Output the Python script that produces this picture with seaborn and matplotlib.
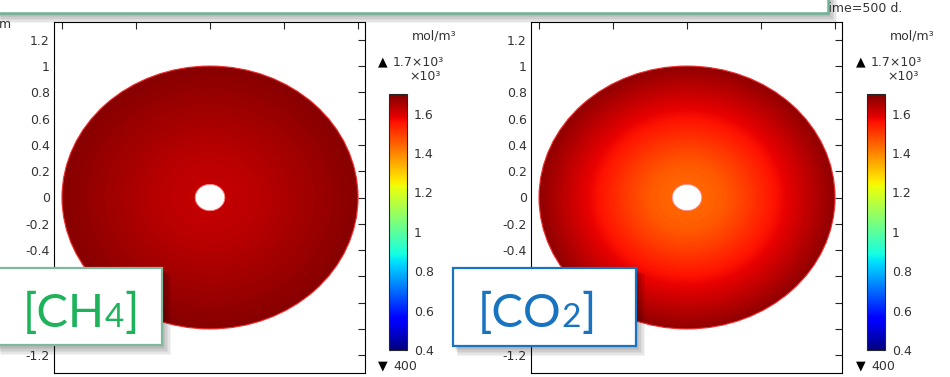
import matplotlib

matplotlib.use("Agg")

import matplotlib.pyplot as plt
import numpy as np
import seaborn as sns
from matplotlib.patches import Circle, Rectangle
from matplotlib.ticker import FuncFormatter

# radial concentration profiles (mol/m3)
RADIUS_NODES = [0.1, 0.25, 0.4, 0.6, 0.8, 1.0]
CH4_PROFILE = [1622, 1628, 1638, 1655, 1672, 1690]
CO2_PROFILE = [1440, 1458, 1498, 1558, 1620, 1680]

DISK_RADIUS = 1.0
HOLE_RADIUS = 0.1
COLOR_MIN = 400
COLOR_MAX = 1700
COLORBAR_TICKS = [400, 600, 800, 1000, 1200, 1400, 1600]
X_TICKS = [-1, -0.5, 0, 0.5, 1]
Y_TICKS = [-1.2, -1, -0.8, -0.6, -0.4, -0.2, 0, 0.2, 0.4, 0.6, 0.8, 1, 1.2]
# tick labels that sit underneath the species boxes
HIDDEN_Y_LABELS = [-1, -0.8, -0.6]

SPECIES = [("CH", "4", "#1db35a", "#7fb99c"), ("CO", "2", "#1874c1", "#1874c1")]
UNIT_LABEL = "mol/m³"
MAX_LABEL = "1.7×10³"
SCALE_LABEL = "×10³"
MIN_LABEL = "400"
TIME_LABEL = "Time=500 d."

W, H = 950, 377
TEXT_COLOR = "#333333"
FS = 9


def px_rect(x0, y0, x1, y1):
    return [x0 / W, 1 - y1 / H, (x1 - x0) / W, (y1 - y0) / H]


def shadow_box(ax, x0, y0, x1, y1, edgecolor, lw=1.6):
    for i in range(6):
        ax.add_patch(
            Rectangle(
                (x0 + 2 + i * 0.6, y0 + 3 + i * 0.6),
                x1 - x0 + i * 0.8,
                y1 - y0 + i * 0.8,
                facecolor="#000000",
                alpha=0.05,
                edgecolor="none",
            )
        )
    ax.add_patch(
        Rectangle((x0, y0), x1 - x0, y1 - y0, facecolor="white", edgecolor=edgecolor, lw=lw)
    )


def y_label(v, _):
    if any(abs(v - h) < 1e-9 for h in HIDDEN_Y_LABELS):
        return ""
    return f"{v:g}"


def draw_field(ax, profile):
    grid = np.linspace(-1.02, 1.02, 700)
    gx, gy = np.meshgrid(grid, grid)
    field = np.interp(np.hypot(gx, gy), RADIUS_NODES, profile)
    im = ax.imshow(
        field,
        extent=(grid[0], grid[-1], grid[0], grid[-1]),
        origin="lower",
        cmap="jet",
        vmin=COLOR_MIN,
        vmax=COLOR_MAX,
        aspect="auto",
        interpolation="bilinear",
    )
    disk = Circle((0, 0), DISK_RADIUS, facecolor="none", edgecolor="#f03030", lw=0.8, zorder=3)
    ax.add_patch(disk)
    im.set_clip_path(disk)
    ax.add_patch(Circle((0, 0), HOLE_RADIUS, facecolor="white", edgecolor="#ff8080", lw=0.6, zorder=3))

    ax.set_xlim(-1.054, 1.047)
    ax.set_ylim(-1.335, 1.335)
    ax.set_xticks(X_TICKS)
    ax.set_yticks(Y_TICKS)
    ax.yaxis.set_major_formatter(FuncFormatter(y_label))
    ax.tick_params(
        direction="in",
        length=5,
        width=0.8,
        top=True,
        right=True,
        labelbottom=False,
        labelsize=FS,
        labelcolor=TEXT_COLOR,
        pad=3,
    )
    for spine in ax.spines.values():
        spine.set_visible(True)
        spine.set_color("black")
        spine.set_linewidth(0.8)
    return im


def draw_colorbar(fig, im, x0):
    cax = fig.add_axes(px_rect(x0, 94, x0 + 18, 350))
    cb = fig.colorbar(im, cax=cax, ticks=COLORBAR_TICKS)
    cb.ax.yaxis.set_major_formatter(FuncFormatter(lambda v, _: f"{v / 1000:g}"))
    cb.ax.tick_params(
        direction="in", length=2.5, width=0.8, left=True, right=True,
        labelsize=FS, labelcolor=TEXT_COLOR, pad=5,
    )
    cb.outline.set_linewidth(0.8)


def main():
    sns.set_theme(style="white")
    plt.rcParams["font.family"] = ["DejaVu Sans"]

    fig = plt.figure(figsize=(W / 100, H / 100), dpi=100)
    fig.patch.set_facecolor("white")

    panel_left = [54, 531]
    bar_left = [389, 867]
    profiles = [CH4_PROFILE, CO2_PROFILE]

    for left, cbar_x, profile in zip(panel_left, bar_left, profiles):
        ax = fig.add_axes(px_rect(left, 22, left + 311, 373))
        im = draw_field(ax, profile)
        draw_colorbar(fig, im, cbar_x)

    overlay = fig.add_axes([0, 0, 1, 1], zorder=10)
    overlay.set_xlim(0, W)
    overlay.set_ylim(H, 0)
    overlay.axis("off")

    # colour legend annotations
    for cbar_x in bar_left:
        overlay.text(cbar_x + 45, 36, UNIT_LABEL, ha="center", va="center", fontsize=FS, color=TEXT_COLOR)
        overlay.text(cbar_x - 6, 62, "▲", ha="center", va="center", fontsize=FS, color="black")
        overlay.text(cbar_x + 4, 62, MAX_LABEL, ha="left", va="center", fontsize=FS, color=TEXT_COLOR)
        overlay.text(cbar_x + 36, 76, SCALE_LABEL, ha="center", va="center", fontsize=FS, color=TEXT_COLOR)
        overlay.text(cbar_x - 6, 366, "▼", ha="center", va="center", fontsize=FS, color="black")
        overlay.text(cbar_x + 4, 366, MIN_LABEL, ha="left", va="center", fontsize=FS, color=TEXT_COLOR)

    overlay.text(-1, 24, "m", ha="left", va="center", fontsize=FS, color=TEXT_COLOR)
    # the "T" sits behind the title box, as in the screenshot
    overlay.text(821, 8, TIME_LABEL, ha="left", va="center", fontsize=FS, color=TEXT_COLOR, zorder=0.5)

    # slide title box (its text is cut off above the frame)
    shadow_box(overlay, -4, -20, 828, 13, "#6fb295", lw=1.8)

    # species label boxes
    boxes = [(-4, 268, 162, 345, 23), (453, 268, 636, 346, 478)]
    for (x0, y0, x1, y1, tx), (base, sub, color, edge) in zip(boxes, SPECIES):
        shadow_box(overlay, x0, y0, x1, y1, edge, lw=1.6)
        t1 = overlay.text(tx, 327, "[" + base, ha="left", va="baseline",
                          fontsize=34, color=color, family=["Lato", "DejaVu Sans"])
        t2 = overlay.annotate(sub, xy=(1, 327), xycoords=(t1, "data"), ha="left", va="baseline",
                              fontsize=24, color=color, family=["Lato", "DejaVu Sans"])
        overlay.annotate("]", xy=(1, 327), xycoords=(t2, "data"), ha="left", va="baseline",
                         fontsize=34, color=color, family=["Lato", "DejaVu Sans"])

    fig.savefig("out.png", dpi=100)


if __name__ == "__main__":
    main()
